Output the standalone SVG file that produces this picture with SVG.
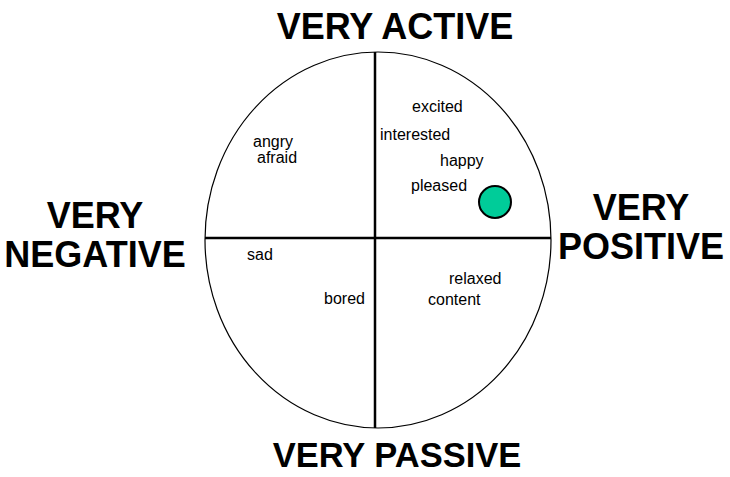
<svg xmlns="http://www.w3.org/2000/svg" width="730" height="477" viewBox="0 0 730 477">
<style>
.big{font-family:"Liberation Sans",Arial,sans-serif;font-weight:bold;font-size:36px;fill:#000}
.sm{font-family:"Liberation Sans",Arial,sans-serif;font-size:16px;fill:#000}
.ax{stroke:#000;stroke-width:2.5;fill:none}
</style>
<rect width="730" height="477" fill="#fff"/>
<g id="circle-frame">
<ellipse cx="378" cy="240" rx="173" ry="188" fill="none" stroke="#000" stroke-width="1.2"/>
</g>
<g id="axes">
<line class="ax" x1="375" y1="52" x2="375" y2="428"/>
<line class="ax" x1="205" y1="238" x2="551" y2="238"/>
</g>
<g id="marker">
<circle cx="495" cy="202" r="16" fill="#00CC99" stroke="#000" stroke-width="2"/>
</g>
<g id="labels-axes">
<text class="big" x="395" y="39" text-anchor="middle">VERY ACTIVE</text>
<text class="big" x="397" y="467" text-anchor="middle" style="font-size:34.5px">VERY PASSIVE</text>
<text class="big" x="95" y="228" text-anchor="middle">VERY</text>
<text class="big" x="95" y="267" text-anchor="middle">NEGATIVE</text>
<text class="big" x="641" y="220" text-anchor="middle">VERY</text>
<text class="big" x="641" y="259" text-anchor="middle">POSITIVE</text>
</g>
<g id="labels-emotions">
<text class="sm" x="412" y="112">excited</text>
<text class="sm" x="380" y="140">interested</text>
<text class="sm" x="440" y="166">happy</text>
<text class="sm" x="411" y="191">pleased</text>
<text class="sm" x="253" y="147">angry</text>
<text class="sm" x="257" y="163">afraid</text>
<text class="sm" x="247" y="260">sad</text>
<text class="sm" x="324" y="304">bored</text>
<text class="sm" x="449" y="284">relaxed</text>
<text class="sm" x="428" y="305">content</text>
</g>
</svg>
